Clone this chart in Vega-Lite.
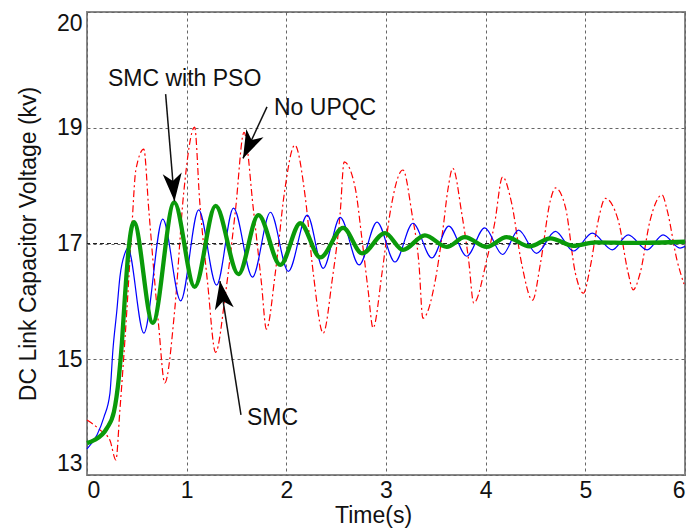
{
  "$schema": "https://vega.github.io/schema/vega-lite/v6.json",
  "width": 598,
  "height": 463,
  "autosize": {"type": "none"},
  "padding": {"left": 87, "top": 12, "right": 6, "bottom": 56},
  "background": "white",
  "config": {
    "view": {"stroke": "#888888", "strokeWidth": 2},
    "font": "Liberation Sans"
  },
  "datasets": {
    "curves": [
      {"s": "No UPQC", "t": 0, "v": 13.95}, {"s": "No UPQC", "t": 0.06, "v": 13.88}, {"s": "No UPQC", "t": 0.13, "v": 13.78}, {"s": "No UPQC", "t": 0.23, "v": 13.6}, {"s": "No UPQC", "t": 0.29, "v": 13.26}, {"s": "No UPQC", "t": 0.33, "v": 14.12}, {"s": "No UPQC", "t": 0.4, "v": 15.85}, {"s": "No UPQC", "t": 0.45, "v": 17.28}, {"s": "No UPQC", "t": 0.49, "v": 18.27}, {"s": "No UPQC", "t": 0.57, "v": 18.63}, {"s": "No UPQC", "t": 0.62, "v": 17.58}, {"s": "No UPQC", "t": 0.72, "v": 15.56}, {"s": "No UPQC", "t": 0.78, "v": 14.59}, {"s": "No UPQC", "t": 0.88, "v": 15.85}, {"s": "No UPQC", "t": 0.97, "v": 17.87}, {"s": "No UPQC", "t": 1.08, "v": 19.01}, {"s": "No UPQC", "t": 1.13, "v": 17.75}, {"s": "No UPQC", "t": 1.21, "v": 16.32}, {"s": "No UPQC", "t": 1.29, "v": 15.12}, {"s": "No UPQC", "t": 1.39, "v": 16.14}, {"s": "No UPQC", "t": 1.49, "v": 17.58}, {"s": "No UPQC", "t": 1.575, "v": 18.92}, {"s": "No UPQC", "t": 1.67, "v": 17.58}, {"s": "No UPQC", "t": 1.75, "v": 16.32}, {"s": "No UPQC", "t": 1.8, "v": 15.52}, {"s": "No UPQC", "t": 1.89, "v": 16.5}, {"s": "No UPQC", "t": 1.98, "v": 17.87}, {"s": "No UPQC", "t": 2.085, "v": 18.7}, {"s": "No UPQC", "t": 2.19, "v": 17.8}, {"s": "No UPQC", "t": 2.27, "v": 16.49}, {"s": "No UPQC", "t": 2.37, "v": 15.45}, {"s": "No UPQC", "t": 2.46, "v": 16.37}, {"s": "No UPQC", "t": 2.54, "v": 17.52}, {"s": "No UPQC", "t": 2.58, "v": 18.41}, {"s": "No UPQC", "t": 2.69, "v": 17.97}, {"s": "No UPQC", "t": 2.76, "v": 17.06}, {"s": "No UPQC", "t": 2.82, "v": 16.2}, {"s": "No UPQC", "t": 2.87, "v": 15.54}, {"s": "No UPQC", "t": 2.96, "v": 16.49}, {"s": "No UPQC", "t": 3.04, "v": 17.52}, {"s": "No UPQC", "t": 3.17, "v": 18.27}, {"s": "No UPQC", "t": 3.26, "v": 17.52}, {"s": "No UPQC", "t": 3.33, "v": 16.66}, {"s": "No UPQC", "t": 3.37, "v": 15.71}, {"s": "No UPQC", "t": 3.49, "v": 16.32}, {"s": "No UPQC", "t": 3.57, "v": 17.23}, {"s": "No UPQC", "t": 3.62, "v": 17.92}, {"s": "No UPQC", "t": 3.67, "v": 18.3}, {"s": "No UPQC", "t": 3.76, "v": 17.52}, {"s": "No UPQC", "t": 3.83, "v": 16.7}, {"s": "No UPQC", "t": 3.88, "v": 15.97}, {"s": "No UPQC", "t": 4.01, "v": 16.71}, {"s": "No UPQC", "t": 4.09, "v": 17.35}, {"s": "No UPQC", "t": 4.17, "v": 18.15}, {"s": "No UPQC", "t": 4.26, "v": 17.7}, {"s": "No UPQC", "t": 4.36, "v": 16.66}, {"s": "No UPQC", "t": 4.47, "v": 16.02}, {"s": "No UPQC", "t": 4.55, "v": 16.66}, {"s": "No UPQC", "t": 4.65, "v": 17.75}, {"s": "No UPQC", "t": 4.7, "v": 17.96}, {"s": "No UPQC", "t": 4.8, "v": 17.63}, {"s": "No UPQC", "t": 4.9, "v": 16.49}, {"s": "No UPQC", "t": 4.98, "v": 16.14}, {"s": "No UPQC", "t": 5.05, "v": 16.6}, {"s": "No UPQC", "t": 5.13, "v": 17.4}, {"s": "No UPQC", "t": 5.2, "v": 17.78}, {"s": "No UPQC", "t": 5.33, "v": 17.4}, {"s": "No UPQC", "t": 5.43, "v": 16.49}, {"s": "No UPQC", "t": 5.48, "v": 16.2}, {"s": "No UPQC", "t": 5.55, "v": 16.49}, {"s": "No UPQC", "t": 5.65, "v": 17.4}, {"s": "No UPQC", "t": 5.77, "v": 17.84}, {"s": "No UPQC", "t": 5.82, "v": 17.58}, {"s": "No UPQC", "t": 5.92, "v": 16.71}, {"s": "No UPQC", "t": 5.99, "v": 16.3},

      {"s": "SMC", "t": 0, "v": 13.45}, {"s": "SMC", "t": 0.1, "v": 13.69}, {"s": "SMC", "t": 0.17, "v": 14.0}, {"s": "SMC", "t": 0.23, "v": 14.41}, {"s": "SMC", "t": 0.26, "v": 15.16}, {"s": "SMC", "t": 0.3, "v": 15.85}, {"s": "SMC", "t": 0.33, "v": 16.42}, {"s": "SMC", "t": 0.38, "v": 16.83}, {"s": "SMC", "t": 0.41, "v": 16.92}, {"s": "SMC", "t": 0.57, "v": 15.45}, {"s": "SMC", "t": 0.76, "v": 17.42}, {"s": "SMC", "t": 0.94, "v": 16.01}, {"s": "SMC", "t": 1.12, "v": 17.58}, {"s": "SMC", "t": 1.3, "v": 16.28}, {"s": "SMC", "t": 1.47, "v": 17.61}, {"s": "SMC", "t": 1.66, "v": 16.42}, {"s": "SMC", "t": 1.84, "v": 17.54}, {"s": "SMC", "t": 2.02, "v": 16.52}, {"s": "SMC", "t": 2.21, "v": 17.49}, {"s": "SMC", "t": 2.37, "v": 16.57}, {"s": "SMC", "t": 2.54, "v": 17.45}, {"s": "SMC", "t": 2.73, "v": 16.63}, {"s": "SMC", "t": 2.91, "v": 17.37}, {"s": "SMC", "t": 3.09, "v": 16.68}, {"s": "SMC", "t": 3.27, "v": 17.35}, {"s": "SMC", "t": 3.46, "v": 16.75}, {"s": "SMC", "t": 3.63, "v": 17.3}, {"s": "SMC", "t": 3.81, "v": 16.78}, {"s": "SMC", "t": 3.99, "v": 17.27}, {"s": "SMC", "t": 4.17, "v": 16.81}, {"s": "SMC", "t": 4.33, "v": 17.23}, {"s": "SMC", "t": 4.51, "v": 16.83}, {"s": "SMC", "t": 4.7, "v": 17.21}, {"s": "SMC", "t": 4.88, "v": 16.87}, {"s": "SMC", "t": 5.07, "v": 17.18}, {"s": "SMC", "t": 5.27, "v": 16.89}, {"s": "SMC", "t": 5.43, "v": 17.15}, {"s": "SMC", "t": 5.62, "v": 16.89}, {"s": "SMC", "t": 5.78, "v": 17.15}, {"s": "SMC", "t": 5.95, "v": 16.92}, {"s": "SMC", "t": 6.0, "v": 16.95},

      {"s": "SMC with PSO", "t": 0, "v": 13.55}, {"s": "SMC with PSO", "t": 0.07, "v": 13.6}, {"s": "SMC with PSO", "t": 0.2, "v": 13.81}, {"s": "SMC with PSO", "t": 0.27, "v": 14.09}, {"s": "SMC with PSO", "t": 0.32, "v": 14.69}, {"s": "SMC with PSO", "t": 0.35, "v": 15.28}, {"s": "SMC with PSO", "t": 0.38, "v": 16.07}, {"s": "SMC with PSO", "t": 0.42, "v": 16.94}, {"s": "SMC with PSO", "t": 0.47, "v": 17.37}, {"s": "SMC with PSO", "t": 0.66, "v": 15.63}, {"s": "SMC with PSO", "t": 0.875, "v": 17.71}, {"s": "SMC with PSO", "t": 1.08, "v": 16.25}, {"s": "SMC with PSO", "t": 1.29, "v": 17.65}, {"s": "SMC with PSO", "t": 1.52, "v": 16.47}, {"s": "SMC with PSO", "t": 1.72, "v": 17.49}, {"s": "SMC with PSO", "t": 1.94, "v": 16.63}, {"s": "SMC with PSO", "t": 2.14, "v": 17.35}, {"s": "SMC with PSO", "t": 2.34, "v": 16.76}, {"s": "SMC with PSO", "t": 2.57, "v": 17.27}, {"s": "SMC with PSO", "t": 2.76, "v": 16.83}, {"s": "SMC with PSO", "t": 2.99, "v": 17.18}, {"s": "SMC with PSO", "t": 3.17, "v": 16.89}, {"s": "SMC with PSO", "t": 3.39, "v": 17.14}, {"s": "SMC with PSO", "t": 3.61, "v": 16.94}, {"s": "SMC with PSO", "t": 3.79, "v": 17.11}, {"s": "SMC with PSO", "t": 4.01, "v": 16.94}, {"s": "SMC with PSO", "t": 4.21, "v": 17.11}, {"s": "SMC with PSO", "t": 4.44, "v": 16.95}, {"s": "SMC with PSO", "t": 4.65, "v": 17.09}, {"s": "SMC with PSO", "t": 4.88, "v": 16.96}, {"s": "SMC with PSO", "t": 5.1, "v": 17.02}, {"s": "SMC with PSO", "t": 5.5, "v": 17.01}, {"s": "SMC with PSO", "t": 6.0, "v": 17.03}
    ],
    "notes": [
      {"label": "SMC with PSO", "lx": 0.21, "ly": 19.84, "sx": 0.789, "sy": 19.58, "tx": 0.878, "ty": 17.73},
      {"label": "No UPQC", "lx": 1.876, "ly": 19.34, "sx": 1.806, "sy": 19.36, "tx": 1.565, "ty": 18.47},
      {"label": "SMC", "lx": 1.605, "ly": 13.98, "sx": 1.545, "sy": 14.04, "tx": 1.334, "ty": 16.35}
    ]
  },
  "encoding": {
    "x": {
      "type": "quantitative",
      "scale": {"domain": [0, 6], "nice": false, "zero": false},
      "axis": {
        "title": "Time(s)", "values": [0, 1, 2, 3, 4, 5, 6], "format": "d",
        "domain": false, "ticks": false, "labelFontSize": 23, "titleFontSize": 23,
        "titleFontWeight": "normal", "labelColor": "#111111", "titleColor": "#111111",
        "labelPadding": 4, "titleX": 286, "titlePadding": 2,
        "grid": true, "gridColor": "#666666", "gridDash": [3, 3], "gridWidth": 1
      }
    },
    "y": {
      "type": "quantitative",
      "scale": {"domain": [13, 21], "nice": false, "zero": false},
      "axis": {
        "title": "DC Link Capacitor Voltage (kv)", "values": [13, 15, 17, 19, 21],
        "labelExpr": "datum.value == 21 ? '20' : datum.label",
        "labelBaseline": {"condition": [{"test": "datum.value == 13", "value": "bottom"}, {"test": "datum.value == 21", "value": "top"}], "value": "middle"},
        "domain": false, "ticks": false, "labelFontSize": 23, "titleFontSize": 23,
        "titleFontWeight": "normal", "labelColor": "#111111", "titleColor": "#111111",
        "labelPadding": 5, "titlePadding": 16,
        "grid": true, "gridColor": "#666666", "gridDash": [3, 3], "gridWidth": 1
      }
    }
  },
  "layer": [
    {
      "data": {"name": "curves"},
      "transform": [{"filter": "datum.s == 'No UPQC'"}],
      "mark": {"type": "line", "color": "#ff0000", "strokeWidth": 1.2, "strokeDash": [7, 3, 2, 3], "interpolate": "monotone"},
      "encoding": {"x": {"field": "t"}, "y": {"field": "v"}}
    },
    {
      "data": {"values": [{"ref": 17}]},
      "mark": {"type": "rule", "color": "#222222", "strokeDash": [4, 3], "strokeWidth": 1},
      "encoding": {"y": {"field": "ref", "type": "quantitative"}}
    },
    {
      "data": {"name": "curves"},
      "transform": [{"filter": "datum.s == 'SMC'"}],
      "mark": {"type": "line", "color": "#0000ff", "strokeWidth": 1.2, "interpolate": "monotone"},
      "encoding": {"x": {"field": "t"}, "y": {"field": "v"}}
    },
    {
      "data": {"name": "curves"},
      "transform": [{"filter": "datum.s == 'SMC with PSO'"}],
      "mark": {"type": "line", "color": "#0a9a0a", "strokeWidth": 4.3, "interpolate": "monotone"},
      "encoding": {"x": {"field": "t"}, "y": {"field": "v"}}
    },
    {
      "data": {"name": "notes"},
      "mark": {"type": "rule", "color": "#111111", "strokeWidth": 1.5},
      "encoding": {
        "x": {"field": "sx"}, "y": {"field": "sy"},
        "x2": {"field": "tx"}, "y2": {"field": "ty"}
      }
    },
    {
      "data": {"name": "notes"},
      "transform": [{"filter": "datum.label == 'SMC with PSO'"}],
      "mark": {"type": "point", "filled": true, "color": "#000000", "opacity": 1, "size": 784, "shape": "M0,0L0.68,2L0,1.45L-0.68,2Z", "angle": 175.3},
      "encoding": {"x": {"field": "tx"}, "y": {"field": "ty"}}
    },
    {
      "data": {"name": "notes"},
      "transform": [{"filter": "datum.label == 'No UPQC'"}],
      "mark": {"type": "point", "filled": true, "color": "#000000", "opacity": 1, "size": 784, "shape": "M0,0L0.68,2L0,1.45L-0.68,2Z", "angle": 205.2},
      "encoding": {"x": {"field": "tx"}, "y": {"field": "ty"}}
    },
    {
      "data": {"name": "notes"},
      "transform": [{"filter": "datum.label == 'SMC'"}],
      "mark": {"type": "point", "filled": true, "color": "#000000", "opacity": 1, "size": 784, "shape": "M0,0L0.68,2L0,1.45L-0.68,2Z", "angle": -8.9},
      "encoding": {"x": {"field": "tx"}, "y": {"field": "ty"}}
    },
    {
      "data": {"name": "notes"},
      "mark": {"type": "text", "align": "left", "baseline": "middle", "fontSize": 23, "color": "#111111", "font": "Liberation Sans"},
      "encoding": {"x": {"field": "lx"}, "y": {"field": "ly"}, "text": {"field": "label"}}
    }
  ]
}
